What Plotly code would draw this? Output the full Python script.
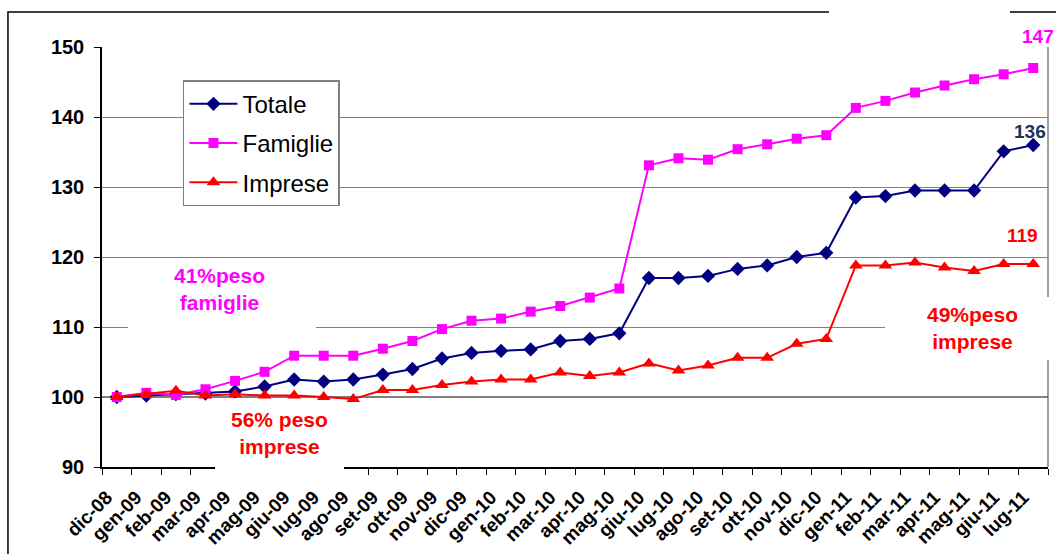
import plotly.graph_objects as go

# Monthly categories (Dec 2008 – Jul 2011)
mesi = ["dic-08", "gen-09", "feb-09", "mar-09", "apr-09", "mag-09", "giu-09", "lug-09",
        "ago-09", "set-09", "ott-09", "nov-09", "dic-09", "gen-10", "feb-10", "mar-10",
        "apr-10", "mag-10", "giu-10", "lug-10", "ago-10", "set-10", "ott-10", "nov-10",
        "dic-10", "gen-11", "feb-11", "mar-11", "apr-11", "mag-11", "giu-11", "lug-11"]

# Index values (dic-08 = 100)
totale = [100.0, 100.2, 100.4, 100.5, 100.8, 101.5, 102.5, 102.2,
          102.5, 103.2, 104.0, 105.5, 106.3, 106.6, 106.8, 108.0,
          108.3, 109.1, 117.0, 117.0, 117.3, 118.3, 118.8, 120.0,
          120.6, 128.5, 128.7, 129.5, 129.5, 129.5, 135.1, 136.0]
famiglie = [100.0, 100.6, 100.3, 101.1, 102.3, 103.6, 105.9, 105.9,
            105.9, 106.9, 108.0, 109.7, 110.9, 111.2, 112.2, 113.0,
            114.2, 115.5, 133.1, 134.1, 133.9, 135.4, 136.1, 136.9,
            137.4, 141.3, 142.3, 143.5, 144.5, 145.4, 146.1, 147.0]
imprese = [100.0, 100.4, 100.9, 100.2, 100.4, 100.2, 100.2, 100.0,
           99.7, 101.0, 101.0, 101.7, 102.2, 102.5, 102.5, 103.5,
           103.0, 103.5, 104.8, 103.8, 104.5, 105.6, 105.6, 107.6,
           108.3, 118.8, 118.8, 119.2, 118.5, 118.0, 119.0, 119.0]

y_ticks = [90, 100, 110, 120, 130, 140, 150]

FONT = "Arial, Liberation Sans, sans-serif"
NAVY = "#000080"
MAGENTA = "#FF00FF"
RED = "#FF0000"

fig = go.Figure()
series = [
    ("Totale", totale, NAVY, "diamond", 11),
    ("Famiglie", famiglie, MAGENTA, "square", 10),
    ("Imprese", imprese, RED, "triangle-up", 12),
]
for name, vals, col, sym, size in series:
    fig.add_trace(go.Scatter(
        x=mesi, y=vals, name=name, mode="lines+markers", legendgroup=name,
        line=dict(color=col, width=2),
        marker=dict(symbol=sym, size=size, color=col, line=dict(width=0)),
        cliponaxis=False,
    ))

# end-of-period value labels
last = len(mesi) - 1
end_labels = [
    (famiglie[last], MAGENTA, 5, 32),
    (totale[last], "#17375E", -3, 14),
    (imprese[last], RED, -11, 29),
]
annotations = []
for val, col, dx, dy in end_labels:
    annotations.append(dict(
        x=last, y=val, xref="x", yref="y", text=f"<b>{val:.0f}</b>",
        showarrow=False, xshift=dx, yshift=dy,
        font=dict(family=FONT, size=19, color=col)))

# weight notes
notes = [
    ("41%peso<br>famiglie", 3.49, 115.4, MAGENTA),
    ("56% peso<br>imprese", 5.49, 94.9, RED),
    ("44%peso<br>famiglie", 27.14, 151.6, MAGENTA),
    ("49%peso<br>imprese", 28.93, 109.9, RED),
]
for txt, xi, yv, col in notes:
    annotations.append(dict(
        x=xi, y=yv, xref="x", yref="y", text=f"<b>{txt}</b>", showarrow=False,
        font=dict(family=FONT, size=21, color=col)))

# white panels behind the notes (paper coordinates)
panels = [
    (0.0275, 0.2262, 0.3024, 0.4881),
    (0.1195, 0.2558, -0.031, 0.1452),
    (0.7685, 0.9598, 0.981, 1.12),
    (0.8277, 1.02, 0.2548, 0.4048),
]
shapes = [
    # outer chart frame
    dict(type="rect", xref="paper", yref="paper", x0=-0.0994, x1=1.03,
         y0=-0.3, y1=1.0833, line=dict(color="black", width=1.5),
         fillcolor="rgba(0,0,0,0)", layer="below"),
    # right border of the plot area
    dict(type="line", xref="paper", yref="paper", x0=1, x1=1, y0=0, y1=1,
         line=dict(color="#808080", width=1.5), layer="below"),
    # base line at 100
    dict(type="line", xref="paper", yref="y", x0=0, x1=1, y0=100, y1=100,
         line=dict(color="black", width=1), layer="below"),
]
for x0, x1, y0, y1 in panels:
    shapes.append(dict(type="rect", xref="paper", yref="paper",
                       x0=x0, x1=x1, y0=y0, y1=y1,
                       fillcolor="white", line=dict(width=0), layer="above"))

fig.update_layout(
    width=1056, height=554,
    margin=dict(l=102, r=8, t=47, b=87),
    paper_bgcolor="white", plot_bgcolor="white",
    font=dict(family=FONT, color="black"),
    showlegend=True,
    legend=dict(
        x=0.0856, y=0.921, xanchor="left", yanchor="top",
        bgcolor="white", bordercolor="#808080", borderwidth=1.5,
        font=dict(family=FONT, size=24, color="black"),
        traceorder="grouped", tracegroupgap=5, itemwidth=48,
    ),
    annotations=annotations,
    shapes=shapes,
)
fig.update_xaxes(
    type="category", tickangle=-45, tickson="boundaries", automargin=False,
    ticks="outside", ticklen=6, tickcolor="black", tickwidth=1,
    showline=True, linecolor="black", linewidth=1.5,
    showgrid=False, ticklabelstandoff=10, ticklabelshift=-10,
    tickfont=dict(family=FONT, size=19, color="black", weight="bold"),
    range=[-0.5, len(mesi) - 0.5],
)
fig.update_yaxes(
    range=[90, 150], tickvals=y_ticks, automargin=False,
    ticks="outside", ticklen=6, tickcolor="black", tickwidth=1,
    showline=True, linecolor="black", linewidth=1.5,
    showgrid=True, gridcolor="#808080", gridwidth=1, zeroline=False,
    ticklabelstandoff=6,
    tickfont=dict(family=FONT, size=20, color="black", weight="bold"),
)

fig.write_html("out.html")
